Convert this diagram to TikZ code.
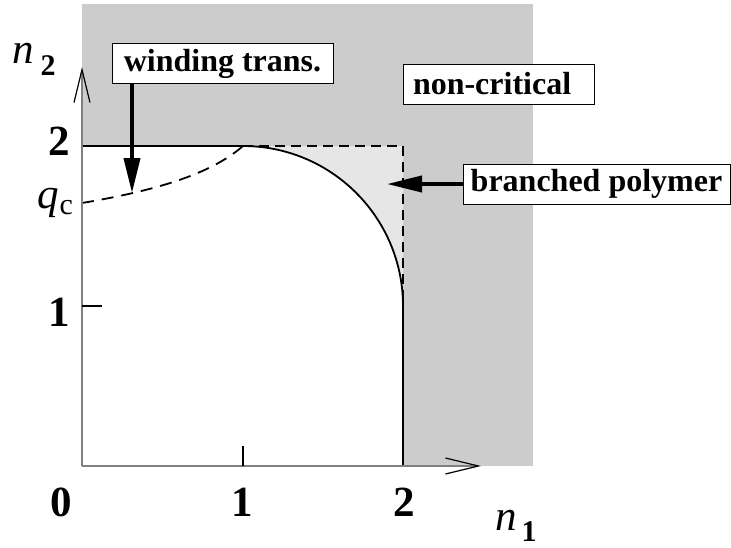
\documentclass[tikz,border=0pt]{standalone}
\usepackage{fontspec}
\setmainfont{Liberation Serif}
\usetikzlibrary{arrows.meta}
\definecolor{darkfill}{HTML}{CCCCCC}
\definecolor{lightfill}{HTML}{E6E6E6}
\definecolor{axisgray}{HTML}{808080}
\begin{document}
\begin{tikzpicture}[x=1pt,y=-1pt,
  labelbox/.style={draw=black, line width=1pt, fill=white, font=\fontsize{32}{32}\selectfont\bfseries, inner sep=0pt, minimum height=40pt},
  ticklabel/.style={font=\fontsize{43}{43}\selectfont\bfseries, inner sep=0pt},
  pointer/.style={line width=4pt, -{Triangle[length=35pt,width=16pt]}},
  axisline/.style={axisgray, line width=1.5pt, -{Straight Barb[length=33pt,width=16pt,line width=1.2pt,color=black]}},
  bound/.style={line width=1.8pt},
  cornerdash/.style={line width=1.8pt, dash pattern=on 10pt off 6pt},
  curvedash/.style={line width=1.8pt, dash pattern=on 12pt off 8pt}]
\useasboundingbox (0,0) rectangle (731,547);
% regions
\fill[darkfill] (82,4) rectangle (533,466);
\fill[white] (82,466) -- (82,146) -- (243,146) .. controls (331.4,146) and (403,217.6) .. (403,306) -- (403,466) -- cycle;
\fill[lightfill] (243,146) -- (403,146) -- (403,306) .. controls (403,217.6) and (331.4,146) .. (243,146) -- cycle;
% boundaries
\draw[bound] (82,146) -- (243,146) .. controls (331.4,146) and (403,217.6) .. (403,306) -- (403,466);
\draw[cornerdash] (243,146) -- (403,146) -- (403,300);
\draw[curvedash] (82,203) .. controls (154,190.8) and (210,174.8) .. (243,146);
% axes and ticks
\draw[axisline] (82,466) -- (82,67);
\draw[axisline] (82,466) -- (481,466);
\draw[line width=1.5pt] (243,466) -- (243,446);
\draw[line width=1.5pt] (82,306) -- (102,306);
% labels
\node[anchor=base west, inner sep=0pt] (n2) at (12,63) {\fontsize{43}{43}\selectfont\itshape n\hspace{7pt}\raisebox{-12pt}{\fontsize{30}{30}\selectfont\upshape\bfseries 2}};
\node[anchor=base west, inner sep=0pt] (n1) at (495,530) {\fontsize{43}{43}\selectfont\itshape n\hspace{5pt}\raisebox{-11pt}{\fontsize{30}{30}\selectfont\upshape\bfseries 1}};
\node[anchor=base west, inner sep=0pt] (qc) at (37,208) {\fontsize{43}{43}\selectfont\itshape q\hspace{1pt}\raisebox{-6pt}{\fontsize{30}{30}\selectfont\upshape c}};
\node[ticklabel, anchor=base east] (ly2) at (70,155) {2};
\node[ticklabel, anchor=base east] (ly1) at (70,326) {1};
\node[ticklabel, anchor=base] (lx0) at (61,516) {0};
\node[ticklabel, anchor=base] (lx1) at (242,516) {1};
\node[ticklabel, anchor=base] (lx2) at (404,516) {2};
% boxes
\node[labelbox, minimum width=221pt] (wind) at (222.5,63.5) {winding trans.};
\node[labelbox, minimum width=191pt, text width=171pt, align=left, inner xsep=10pt] (noncrit) at (498.5,84) {non-critical};
\node[labelbox, minimum width=267pt] (branch) at (596.5,184) {branched polymer};
% pointers
\coordinate (wtip) at (132,193);
\draw[pointer] (wind.south -| wtip) -- (wtip);
\coordinate (btip) at (387,184);
\draw[pointer] (branch.west) -- (btip);
\end{tikzpicture}
\end{document}
